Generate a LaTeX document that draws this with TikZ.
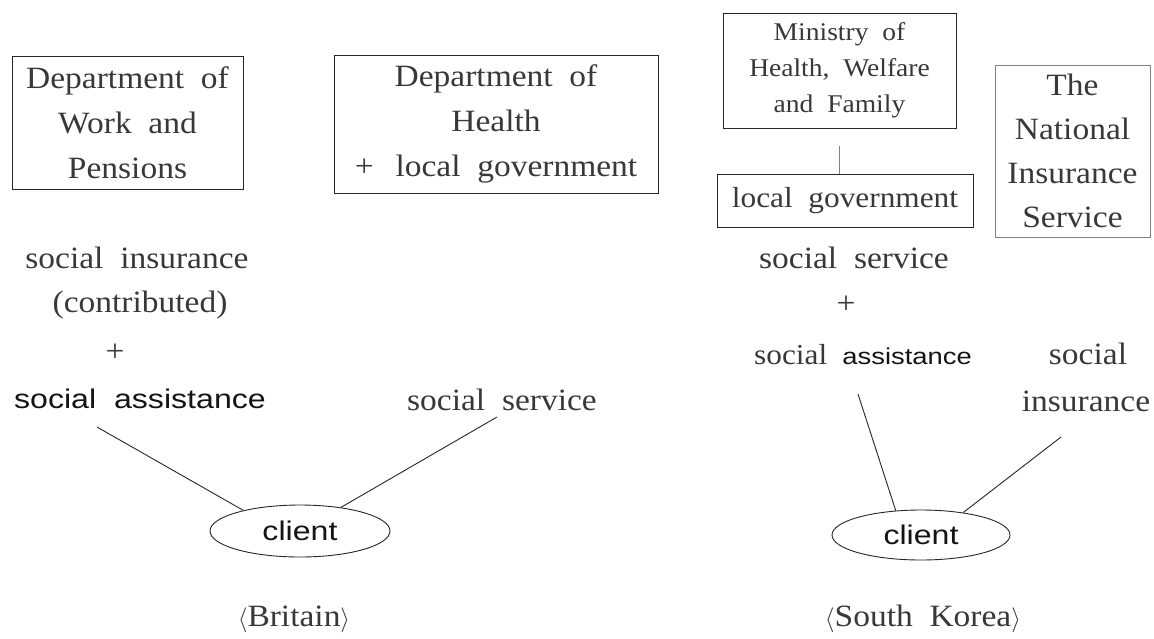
\documentclass[tikz,border=0pt]{standalone}
\usepackage{fontspec}
\usetikzlibrary{shapes.geometric}
\setmainfont{Liberation Serif}[FakeStretch=1.08,WordSpace=2.0]
\newfontfamily\gsans{Liberation Sans}[FakeStretch=1.19,WordSpace=2.0]
\begin{document}
\begin{tikzpicture}[x=1pt,y=-1pt,
  txt/.style={inner sep=0pt,text=black!78,font=\fontsize{31}{45}\selectfont},
  sanstxt/.style={inner sep=0pt,text=black!92,font=\gsans\fontsize{27}{32}\selectfont},
  orgbox/.style={draw=black!85,line width=1pt,inner sep=0pt,align=center,text=black!78},
  cl/.style={ellipse,draw=black!85,line width=0.9pt,inner sep=0pt,minimum width=180pt,minimum height=52pt,text=black!92,font=\gsans\fontsize{27}{32}\selectfont},
  link/.style={draw=black!85,line width=0.9pt}]
\useasboundingbox (0,0) rectangle (1154,638);
% Britain
\node[orgbox,minimum width=231pt,minimum height=133pt,font=\fontsize{31}{45}\selectfont] (dwp) at (127.5,122.5) {Department of\\Work and\\Pensions};
\node[orgbox,minimum width=324pt,minimum height=138pt,font=\fontsize{31}{45}\selectfont] (doh) at (496,124) {Department of\\Health\\+ \,local government};
\node[txt] (si) at (137,258) {social insurance};
\node[txt] (contrib) at (140,305) {(contributed)};
\node[txt] (plus1) at (115,353) {+};
\node[sanstxt] (sa1) at (140,399) {social assistance};
\node[txt] (ss1) at (502,400) {social service};
\node[cl] (client1) at (300,531) {client};
\node[txt] (britain) at (294,619) {$\langle$Britain$\rangle$};
\coordinate (a1) at (97,427);
\coordinate (a2) at (497,417);
\draw[link] (a1) -- (client1.160);
\draw[link] (a2) -- (client1.30);
% South Korea
\node[orgbox,minimum width=233pt,minimum height=115pt,font=\fontsize{25.5}{36}\selectfont] (min) at (839.5,70.5) {Ministry of\\Health, Welfare\\and Family};
\node[orgbox,minimum width=256pt,minimum height=53pt,font=\fontsize{29}{34}\selectfont] (lg) at (845,200.5) {local government};
\node[orgbox,draw=black!50,minimum width=155pt,minimum height=172pt,font=\fontsize{31}{44}\selectfont] (nis) at (1072.5,151) {The\\National\\Insurance\\Service};
\draw[draw=black!50,line width=1pt] ([yshift=-17pt]min.south) -- (min.south |- lg.north);
\node[txt] (ss2) at (854,258) {social service};
\node[txt] (plus2) at (846,305) {+};
\node[sanstxt,font=\gsans\fontsize{23}{30}\selectfont] (sa2) at (863,355) {{\rmfamily\fontsize{29}{30}\selectfont\color{black!78}social} assistance};
\node[txt] (soc) at (1088,354) {social};
\node[txt] (ins) at (1086,401) {insurance};
\node[cl,minimum width=178pt,minimum height=50pt] (client2) at (921,535) {client};
\node[txt] (korea) at (923,619) {$\langle$South Korea$\rangle$};
\coordinate (a3) at (858,394);
\coordinate (a4) at (1061,437);
\draw[link] (a3) -- (client2.136);
\draw[link] (a4) -- (client2.28);
\end{tikzpicture}
\end{document}
